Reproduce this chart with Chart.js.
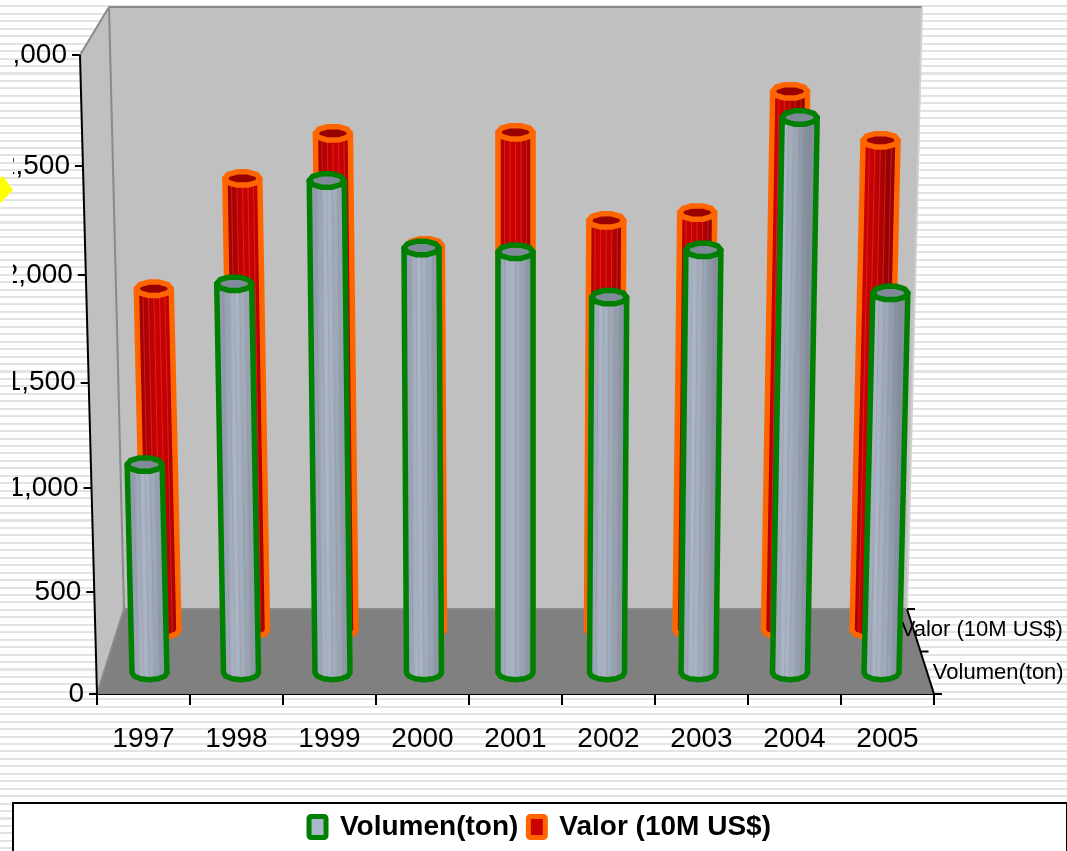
<!DOCTYPE html>
<html>
<head>
<meta charset="utf-8">
<title>Volumen y Valor</title>
<script src="https://cdn.jsdelivr.net/npm/chart.js@4"></script>
<style>
  html, body { margin: 0; padding: 0; overflow: hidden; }
  body {
    width: 1067px;
    height: 851px;
    position: relative;
    background: repeating-linear-gradient(to bottom, #ffffff 0, #ffffff 5.4px, #e3e3e3 5.4px, #e3e3e3 7.45px);
  }
  #chart { position: absolute; left: 0; top: 0; }
  #bullet {
    position: absolute; left: -14px; top: 176px; width: 27px; height: 28px;
    background: #ffff00;
    clip-path: polygon(62% 0, 100% 50%, 50% 100%, 0 50%);
  }
</style>
</head>
<body>
<div id="bullet"></div>
<canvas id="chart" width="1067" height="851"></canvas>
<script>
const years = ["1997", "1998", "1999", "2000", "2001", "2002", "2003", "2004", "2005"];
const volumen = [1030, 1893, 2375, 2061, 2043, 1830, 2052, 2665, 1850];
const valor = [1718, 2251, 2466, 1928, 2471, 2049, 2087, 2665, 2433];
const seriesNames = ["Volumen(ton)", "Valor (10M US$)"];
const yTicksMax = 3000;
const yTickStep = 500;

const labelFont = "'Liberation Sans Narrow', 'Liberation Sans', sans-serif";

// perspective of the box
const squeeze = 0.049;
const lean = 6.36e-5;
const floorRise = 85;
const backWidth = 0.9355;
const backHeight = 0.942;

function project(chart, x, height, depth) {
  const area = chart.chartArea;
  const centre = (area.left + area.right) / 2;
  const widthScale = 1 - (1 - backWidth) * depth;
  const heightScale = 1 - (1 - backHeight) * depth;
  const h = height * heightScale;
  return {
    x: centre + (x - centre) * widthScale * (1 + lean * h),
    y: area.bottom - floorRise * depth - h,
  };
}

class PerspectiveScale extends Chart.LinearScale {
  static id = "perspective";
  static defaults = {};

  getPixelForValue(value) {
    const t = (value - this.min) / (this.max - this.min);
    const f = ((1 - squeeze) * t) / (1 - squeeze * t);
    return this.bottom - f * (this.bottom - this.top);
  }

  _computeGridLineItems(chartArea) {
    const items = super._computeGridLineItems(chartArea);
    items.forEach((item) => {
      const shift = project(this.chart, this.right, this.bottom - item.ty1, 0).x - this.right;
      item.tx1 += shift;
      item.tx2 += shift;
    });
    return items;
  }

  _computeLabelItems(chartArea) {
    const items = super._computeLabelItems(chartArea);
    items.forEach((item) => {
      const [x, y] = item.options.translation;
      const shift = project(this.chart, this.right, this.bottom - y, 0).x - this.right;
      item.options.translation = [x + shift, y];
    });
    return items;
  }
}
Chart.register(PerspectiveScale);

function polygon(ctx, points) {
  ctx.beginPath();
  points.forEach((p, i) => (i ? ctx.lineTo(p.x, p.y) : ctx.moveTo(p.x, p.y)));
  ctx.closePath();
}

const boxPlugin = {
  id: "box",
  beforeDatasetsDraw(chart) {
    const ctx = chart.ctx;
    const area = chart.chartArea;
    const h = chart.scales.y.getPixelForValue(0) - chart.scales.y.getPixelForValue(yTicksMax);
    const fl = project(chart, area.left, 0, 0);
    const fr = project(chart, area.right, 0, 0);
    const bl = project(chart, area.left, 0, 1);
    const br = project(chart, area.right, 0, 1);
    const tf = project(chart, area.left, h, 0);
    const tl = project(chart, area.left, h, 1);
    const tr = project(chart, area.right, h, 1);

    ctx.save();
    ctx.lineJoin = "round";
    ctx.fillStyle = "#c0c0c0";
    polygon(ctx, [tl, tr, br, bl]);
    ctx.fill();
    polygon(ctx, [fl, tf, tl, bl]);
    ctx.fill();
    ctx.fillStyle = "#808080";
    polygon(ctx, [fl, fr, br, bl]);
    ctx.fill();

    ctx.strokeStyle = "#8a8a8a";
    ctx.lineWidth = 2;
    ctx.beginPath();
    ctx.moveTo(tf.x, tf.y);
    ctx.lineTo(tl.x, tl.y);
    ctx.lineTo(tr.x, tr.y);
    ctx.moveTo(tl.x, tl.y);
    ctx.lineTo(bl.x, bl.y);
    ctx.lineTo(fl.x, fl.y);
    ctx.moveTo(bl.x, bl.y);
    ctx.lineTo(br.x, br.y);
    ctx.stroke();
    ctx.strokeStyle = "#d0d0d0";
    ctx.beginPath();
    ctx.moveTo(tr.x, tr.y);
    ctx.lineTo(br.x, br.y);
    ctx.stroke();

    // value axis and depth axis
    ctx.strokeStyle = "#000000";
    ctx.lineWidth = 2;
    ctx.beginPath();
    ctx.moveTo(fl.x, fl.y);
    ctx.lineTo(tf.x, tf.y);
    ctx.moveTo(fr.x, fr.y);
    ctx.lineTo(br.x, br.y);
    [0, 0.5, 1].forEach((d) => {
      const p = project(chart, area.right, 0, d);
      ctx.moveTo(p.x, p.y);
      ctx.lineTo(p.x + 8, p.y);
    });
    ctx.stroke();

    ctx.fillStyle = "#000000";
    ctx.font = "22px " + labelFont;
    ctx.textAlign = "center";
    ctx.textBaseline = "middle";
    seriesNames.forEach((name, i) => {
      const p = project(chart, area.right, 0, 0.25 + i * 0.5);
      ctx.fillText(name, p.x + 71 - i * 3, p.y);
    });
    ctx.restore();
  },
};

const looks = [
  {
    depth: 0.25,
    edge: "#008000",
    top: "#7f8b98",
    stops: ["#8d9dae", "#a8b8c8", "#98a8b6", "#7f8f9d"],
    stripe: "rgba(190,110,120,0.35)",
  },
  {
    depth: 0.75,
    edge: "#ff6600",
    top: "#990000",
    stops: ["#a80000", "#cc0000", "#c40000", "#990000"],
    stripe: "rgba(225,90,90,0.4)",
  },
];

function ringPoints(c, rx, ry, from, to, steps) {
  const out = [];
  for (let i = 0; i <= steps; i++) {
    const a = from + ((to - from) * i) / steps;
    out.push({ x: c.x + rx * Math.cos(a), y: c.y + ry * Math.sin(a) });
  }
  return out;
}

function drawCylinder(chart, bar, look) {
  const ctx = chart.ctx;
  const rx = 17.5;
  const ry = 7;
  const foot = project(chart, bar.x, 0, look.depth);
  const head = project(chart, bar.x, bar.base - bar.y, look.depth);

  const lower = ringPoints(foot, rx, ry, 0, Math.PI, 6);
  const rim = ringPoints(head, rx, ry, 0, Math.PI * 2, 10).slice(0, 10);
  const side = [{ x: head.x - rx, y: head.y }, { x: head.x + rx, y: head.y }].concat(lower);

  ctx.save();
  ctx.lineJoin = "round";
  ctx.lineWidth = 5.5;
  ctx.strokeStyle = look.edge;

  const gradient = ctx.createLinearGradient(foot.x - rx, 0, foot.x + rx, 0);
  look.stops.forEach((colour, i) => gradient.addColorStop(i / (look.stops.length - 1), colour));
  polygon(ctx, side);
  ctx.fillStyle = gradient;
  ctx.fill();

  ctx.save();
  ctx.clip();
  ctx.strokeStyle = look.stripe;
  ctx.lineWidth = 1;
  for (let i = -3; i <= 3; i++) {
    ctx.beginPath();
    ctx.moveTo(foot.x + i * 5.5, foot.y + ry);
    ctx.lineTo(head.x + i * 5.5, head.y);
    ctx.stroke();
  }
  ctx.restore();

  polygon(ctx, side);
  ctx.stroke();

  polygon(ctx, rim);
  ctx.fillStyle = look.top;
  ctx.fill();
  ctx.stroke();
  ctx.restore();
}

const cylinderPlugin = {
  id: "cylinders",
  beforeDatasetDraw(chart, args) {
    const look = looks[args.index];
    args.meta.data.forEach((bar) => drawCylinder(chart, bar, look));
    return false;
  },
};

const legendFramePlugin = {
  id: "legendFrame",
  beforeDraw(chart) {
    const box = chart.legend;
    const ctx = chart.ctx;
    ctx.save();
    ctx.fillStyle = "#ffffff";
    ctx.strokeStyle = "#000000";
    ctx.lineWidth = 2;
    ctx.fillRect(box.left, box.top, box.width, box.height + 10);
    ctx.strokeRect(box.left, box.top, box.width, box.height + 10);
    ctx.restore();
  },
};

new Chart(document.getElementById("chart"), {
  type: "bar",
  data: {
    labels: years,
    datasets: [
      { label: seriesNames[0], data: volumen, backgroundColor: "#a8b8c8", borderColor: "#008000" },
      { label: seriesNames[1], data: valor, backgroundColor: "#cc0000", borderColor: "#ff6600" },
    ],
  },
  plugins: [boxPlugin, cylinderPlugin, legendFramePlugin],
  options: {
    responsive: false,
    animation: false,
    events: [],
    datasets: { bar: { grouped: false } },
    layout: { padding: { top: 55, left: 13, right: 0, bottom: 0 } },
    scales: {
      x: {
        type: "category",
        offset: true,
        afterFit(scale) { scale.height = 109; },
        border: { color: "#000000", width: 2 },
        grid: { display: true, drawOnChartArea: false, drawTicks: true, tickLength: 11, color: "#000000", lineWidth: 2, offset: true },
        ticks: { color: "#000000", font: { family: labelFont, size: 28 }, maxRotation: 0, padding: 17 },
      },
      y: {
        type: "perspective",
        min: 0,
        max: yTicksMax,
        afterFit(scale) { scale.width = 84; },
        border: { display: false },
        grid: { display: true, drawOnChartArea: false, drawTicks: true, tickLength: 8, color: "#000000", lineWidth: 2 },
        ticks: { stepSize: yTickStep, color: "#000000", font: { family: labelFont, size: 28 }, padding: 5 },
      },
      depth: {
        type: "linear",
        position: "right",
        afterFit(scale) { scale.width = 133; },
        border: { display: false },
        grid: { display: false },
        ticks: { display: false },
      },
    },
    plugins: {
      title: { display: false },
      tooltip: { enabled: false },
      legend: {
        position: "bottom",
        labels: {
          color: "#000000",
          font: { family: labelFont, size: 28, weight: "bold" },
          boxWidth: 17,
          boxHeight: 21,
          padding: 10,
          useBorderRadius: true,
          borderRadius: 2,
          generateLabels(chart) {
            return chart.data.datasets.map((set, i) => ({
              text: set.label,
              fillStyle: set.backgroundColor,
              strokeStyle: set.borderColor,
              lineWidth: 5,
              borderRadius: 2,
              datasetIndex: i,
            }));
          },
        },
      },
    },
  },
});
</script>
</body>
</html>
